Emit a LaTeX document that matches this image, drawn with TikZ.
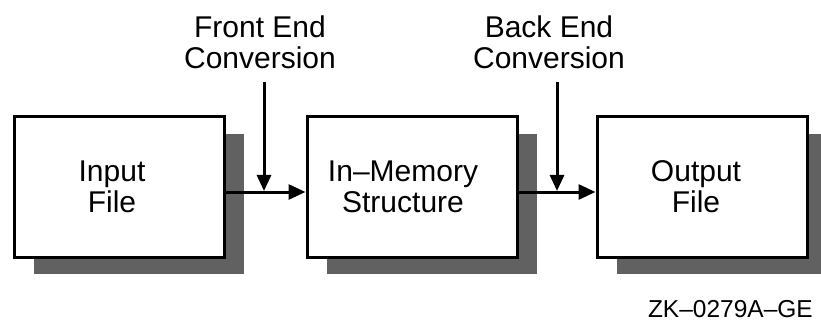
\documentclass[tikz,border=0pt]{standalone}
\usepackage{fontspec}
\setmainfont{Liberation Sans}
\usetikzlibrary{arrows.meta,shadows}
\begin{document}
\begin{tikzpicture}[x=1pt,y=-1pt,
  box/.style={draw=black, line width=3pt, fill=white,
    minimum width=210pt, minimum height=140pt, inner sep=0pt,
    drop shadow={shadow xshift=20pt, shadow yshift=-17pt,
      fill=black!62, opacity=1}},
  boxtext/.style={align=center, font=\fontsize{30}{31}\selectfont, inner sep=0pt},
  lbl/.style={align=center, font=\fontsize{30}{31}\selectfont, inner sep=0pt},
  flow/.style={line width=3pt,
    -{Triangle[length=17pt,width=15pt]}},
  feed/.style={line width=3pt,
    -{Triangle[length=16pt,width=14pt]}}]
\useasboundingbox (0,0) rectangle (821,323);

% processing stages
\node[box] (in)  at (119,187) {};
\node[box] (mem) at (412,187) {};
\node[box] (out) at (702,187) {};
\node[boxtext] (intext)  at ([xshift=-7pt]in.center)  {Input\\File};
\node[boxtext] (memtext) at ([xshift=-9pt]mem.center) {In–Memory\\Structure};
\node[boxtext] (outtext) at ([xshift=-6pt]out.center) {Output\\File};

% conversion labels
\node[lbl] (fe) at (260,42) {Front End\\Conversion};
\node[lbl] (be) at (549,42) {Back End\\Conversion};

% main data flow
\draw[flow] ([yshift=-5pt]in.east) -- ([yshift=-5pt]mem.west);
\draw[flow] ([yshift=-5pt]mem.east) -- ([yshift=-5pt]out.west);

% conversion inputs joining the flow
\coordinate (fetop) at (264,82);
\coordinate (fejoin) at (264,191);
\coordinate (betop) at (557,82);
\coordinate (bejoin) at (557,191);
\draw[feed] (fetop) -- (fejoin);
\draw[feed] (betop) -- (bejoin);

% figure tag
\node[anchor=base east, inner sep=0pt, font=\fontsize{24.5}{26}\selectfont]
  (tag) at (813,317) {ZK–0279A–GE};
\end{tikzpicture}
\end{document}
